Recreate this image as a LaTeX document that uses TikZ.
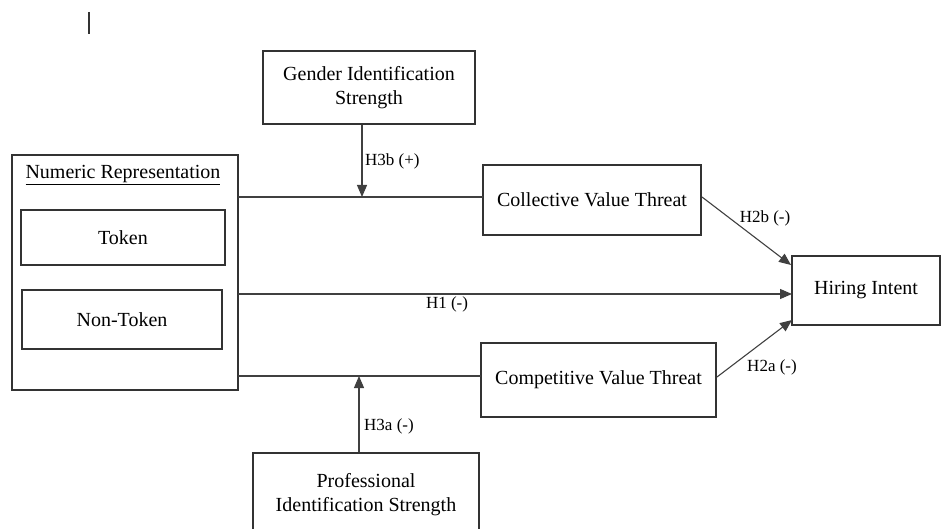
\documentclass[tikz,border=0pt]{standalone}
\usepackage{fontspec}
\setmainfont{Liberation Serif}
\usetikzlibrary{arrows.meta}
\tikzset{
  box/.style={draw=black!80, line width=1.3pt, inner sep=0pt, align=center,
    font=\fontsize{20}{24}\selectfont, text=black},
  conn/.style={draw=black!75, line width=1.1pt},
  arr/.style={conn, -{Triangle[length=12pt,width=10pt]}},
  lbl/.style={font=\fontsize{17}{20}\selectfont, text=black, inner sep=0pt}
}
\begin{document}
\begin{tikzpicture}[x=1pt,y=-1pt]
\useasboundingbox (0,0) rectangle (942,529);
\clip (0,0) rectangle (942,529);
% stray bar
\coordinate (bar1) at (89,12);
\coordinate (bar2) at (89,34);
\draw[black!80, line width=1.2pt] (bar1) -- (bar2);
% boxes
\node[box, minimum width=212pt, minimum height=73pt] (gen) at (369,87.5) {Gender Identification\\Strength};
\node[box, minimum width=226pt, minimum height=235pt] (num) at (125,272.5) {};
\node[font=\fontsize{20}{24}\selectfont, inner sep=0pt, text=black] (numt) at (123,175) {\underline{Numeric Representation}};
\node[box, minimum width=204pt, minimum height=55pt] (tok) at (123,237.5) {Token};
\node[box, minimum width=200pt, minimum height=59pt] (non) at (122,319.5) {Non-Token};
\node[box, minimum width=218pt, minimum height=70pt] (coll) at (592,200) {Collective Value Threat};
\node[box, minimum width=235pt, minimum height=74pt] (comp) at (598.5,380) {Competitive Value Threat};
\node[box, minimum width=148pt, minimum height=69pt] (hire) at (866,290.5) {Hiring Intent};
\node[box, minimum width=226pt, minimum height=84pt] (prof) at (366,495) {Professional\\Identification Strength};
% coordinates
\coordinate (numtop) at (238,197);
\coordinate (colin) at (483,197);
\coordinate (numbot) at (238,376);
\coordinate (compin) at (481,376);
\coordinate (mtop) at (362,197);
\coordinate (mbot) at (359,376);
\coordinate (numh) at (238,294);
\coordinate (hirein) at (792,294);
\coordinate (collout) at (702,197);
\coordinate (hireb) at (791,265);
\coordinate (compout) at (717,377);
\coordinate (hirea) at (792,320);
% connectors
\draw[conn] (numtop) -- (colin);
\draw[conn] (numbot) -- (compin);
\draw[arr] (gen.south -| mtop) -- (mtop);
\draw[arr] (prof.north -| mbot) -- (mbot);
\draw[arr] (numh) -- (hirein);
\draw[arr] (collout) -- (hireb);
\draw[arr] (compout) -- (hirea);
% labels
\node[lbl, anchor=west] (l3b) at (365,161) {H3b (+)};
\node[lbl, anchor=west] (l3a) at (364,426) {H3a (-)};
\node[lbl] (l1) at (447,304) {H1 (-)};
\node[lbl] (l2b) at (765,218) {H2b (-)};
\node[lbl] (l2a) at (772,367) {H2a (-)};
\end{tikzpicture}
\end{document}
